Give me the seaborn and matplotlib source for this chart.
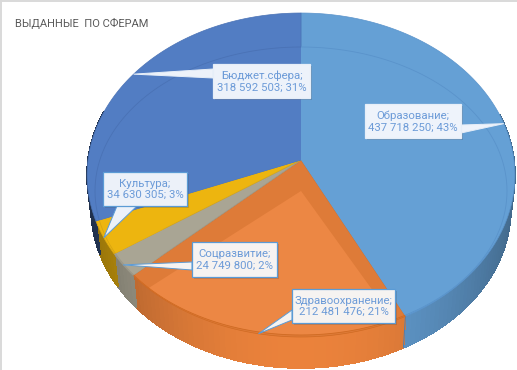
import numpy as np
import matplotlib
matplotlib.use("Agg")
import matplotlib.pyplot as plt
from matplotlib.lines import Line2D
from matplotlib.patches import Polygon, Rectangle
from matplotlib.colors import to_rgb
import seaborn as sns

# ---- data (clockwise from 12 o'clock) ----
categories = ["Образование", "Здравоохранение", "Соцразвитие", "Культура", "Бюджет.сфера"]
values = [437718250, 212481476, 24749800, 34630305, 318592503]
title = "ВЫДАННЫЕ  ПО СФЕРАМ"

# ---- style ----
sns.set_theme(style="white")
plt.rcParams["font.family"] = ["Roboto", "Liberation Sans", "DejaVu Sans"]
top_colors = sns.color_palette(["#65A0D5", "#DE7B38", "#A9A594", "#EDB50F", "#527DC3"])
inner_colors = sns.color_palette(["#65A0D5", "#EC8744", "#A9A594", "#EDB50F", "#527DC3"])
rim_colors = ["#5A93CB", "#CF6A22", "#9A9788", "#D8A510", "#4A72B5"]
wall_factor = [1.0, 1.09, 1.05, 0.95, 0.6]
box_fill = ["#EEF3FB", "#F6F3F1", "#F6F3F1", "#ECF1F9", "#EDF2FA"]
box_edge = ["#E6EEF8", "#5B9BD5", "#5B9BD5", "#5B9BD5", "#E6EEF8"]
text_color = "#6C9BD8"

# ---- projection of the tilted disc ----
CX, CY, RX, RY, K = 301.0, 160.0, 213.0, 160.6, 0.0926
DROP_CY, DROP_S = 194.5, 0.98
IN_CY, IN_RX, IN_RY = 191.0, 206.0, 144.0


def top_pt(theta):
    u, v = np.sin(theta), np.cos(theta)
    w = 1 + K * v
    return CX + RX * u / w, CY - RY * v / w


def bottom_pt(theta):
    x, y = top_pt(theta)
    return CX + DROP_S * (x - CX), DROP_CY + DROP_S * (y - CY)


def inner_pt(theta):
    return CX + IN_RX * np.sin(theta), IN_CY - IN_RY * np.cos(theta)


def shade(color, f):
    return tuple(min(1, c * f) for c in to_rgb(color))


fig = plt.figure(figsize=(5.17, 3.70), dpi=100)
ax = fig.add_axes([0, 0, 1, 1])

vals = np.array(values, dtype=float)
edges = np.concatenate([[0], np.cumsum(vals) / vals.sum()]) * 2 * np.pi

# outer walls
for i in range(len(vals)):
    th = np.linspace(edges[i], edges[i + 1], max(int((edges[i + 1] - edges[i]) * 40), 3))
    for a, b in zip(th[:-1], th[1:]):
        if np.cos((a + b) / 2) > 0.3:
            continue
        u = np.sin((a + b) / 2)
        f = (0.97 - 0.33 * u * u) * wall_factor[i]
        col = shade(top_colors[i], f)
        quad = [top_pt(a), top_pt(b), bottom_pt(b), bottom_pt(a)]
        ax.add_patch(Polygon(quad, closed=True, facecolor=col, edgecolor=col, lw=0.6,
                             antialiased=False, zorder=2))

th = edges[1]
ax.add_line(Line2D(*zip(top_pt(th), bottom_pt(th)), color="#4C7FB5", lw=0.7, zorder=2.5))

# top faces
ring = np.linspace(0, 2 * np.pi, 361)
ring_pts = np.array([inner_pt(t) for t in ring])
for i in range(len(vals)):
    th = np.linspace(edges[i], edges[i + 1], 120)
    pts = [(CX, CY)] + [top_pt(t) for t in th]
    wedge = Polygon(pts, closed=True, facecolor=top_colors[i], edgecolor=rim_colors[i], lw=0.5, zorder=3)
    ax.add_patch(wedge)
    ipts = [(CX, IN_CY)] + [inner_pt(t) for t in th]
    face = Polygon(ipts, closed=True, facecolor=inner_colors[i], edgecolor="none", zorder=3.1)
    ax.add_patch(face)
    face.set_clip_path(wedge)
    # thin rim seen through the face
    sns.lineplot(x=ring_pts[:, 0], y=ring_pts[:, 1], sort=False, estimator=None, color=rim_colors[i],
                 lw=0.6, ax=ax, legend=False, zorder=3.2)
    ax.lines[-1].set_clip_path(wedge)

ax.set_xlim(0, 517)
ax.set_ylim(370, 0)
ax.axis("off")

# callouts: box (left, top, right, bottom), pointer base on the box
boxes = [(365, 104, 461, 138), (292, 289, 395, 323), (192, 242, 277, 277), (103, 172, 187, 206), (213, 64, 310, 98)]
bases = [((461, 125), (461, 133)), ((292, 310), (292, 320)), ((192, 262), (192, 270)),
         ((117, 206), (137, 206)), ((213, 69), (213, 78))]
total = vals.sum()
for i, name in enumerate(categories):
    mid = (edges[i] + edges[i + 1]) / 2
    tx, ty = top_pt(mid)
    l, t, r, b = boxes[i]
    (b1, b2) = bases[i]
    ax.add_patch(Rectangle((l + 2, t + 2), r - l, b - t, facecolor="#3A3A3A", alpha=0.2, edgecolor="none", zorder=5))
    ax.add_patch(Polygon([b1, (tx, ty), b2], closed=True, facecolor=box_fill[i], edgecolor=box_edge[i], lw=0.7, zorder=5.5))
    ax.add_patch(Rectangle((l, t), r - l, b - t, facecolor=box_fill[i], edgecolor=box_edge[i], lw=0.9, zorder=6))
    txt = f"{name};\n{values[i]:,}; {values[i] / total * 100:.0f}%".replace(",", " ")
    ax.text((l + r) / 2, (t + b) / 2 + 0.5, txt, ha="center", va="center", color=text_color,
            fontsize=8.2, linespacing=1.22, zorder=7)

ax.text(15, 23.5, title, ha="left", va="center", color="#595959", fontsize=8.05, zorder=7)

# picture frame, top and left only
fig.add_artist(Line2D([0, 1], [0.9985, 0.9985], color="#D9D9D9", lw=1.4, transform=fig.transFigure))
fig.add_artist(Line2D([0.001, 0.001], [0, 1], color="#D9D9D9", lw=1.4, transform=fig.transFigure))

fig.savefig("out.png", dpi=100)
